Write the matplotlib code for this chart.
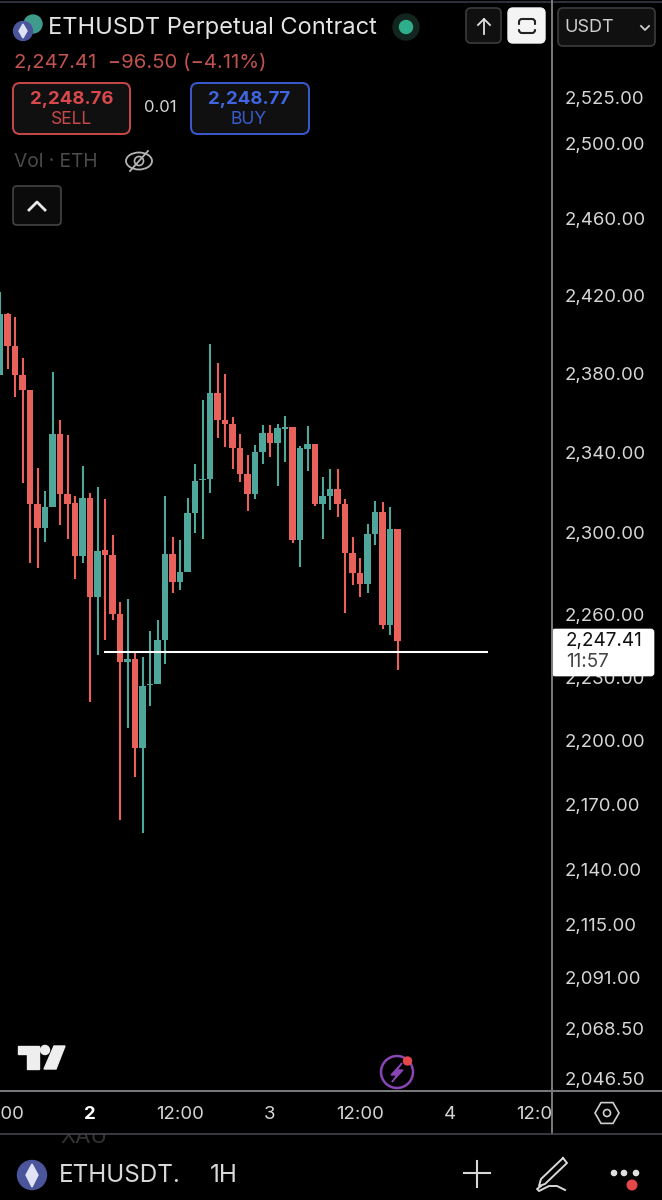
import numpy as np
import matplotlib
matplotlib.use('Agg')
import matplotlib.pyplot as plt
from matplotlib.patches import FancyBboxPatch, Circle, Polygon, Rectangle, Ellipse, RegularPolygon
from matplotlib.ticker import NullLocator

plt.rcParams['font.family'] = ['Inter', 'DejaVu Sans']

# hourly candles
opens = [2379.1, 2410.4, 2394.0, 2379.1, 2371.5, 2314.3, 2302.5, 2312.8, 2349.3, 2319.3,
         2314.8, 2288.7, 2317.3, 2268.7, 2291.6, 2289.2, 2260.5, 2237.4, 2238.8, 2196.5,
         2226.3, 2226.8, 2247.9, 2289.7, 2276.0, 2280.9, 2309.9, 2326.3, 2326.8, 2370.0,
         2356.4, 2354.3, 2342.3, 2329.3, 2319.3, 2340.2, 2349.8, 2344.7, 2351.8, 2352.8,
         2296.6, 2341.8, 2344.2, 2314.3, 2318.3, 2321.8, 2314.3, 2290.2, 2280.4, 2275.0,
         2299.5, 2310.3, 2255.1, 2302.0]
closes = [2410.4, 2394.0, 2379.1, 2371.5, 2314.3, 2302.5, 2312.8, 2349.3, 2319.3, 2314.3,
          2288.7, 2317.3, 2268.7, 2291.2, 2289.2, 2260.5, 2237.4, 2238.8, 2196.5, 2225.9,
          2226.8, 2247.9, 2289.7, 2276.0, 2280.9, 2309.9, 2325.7, 2326.8, 2370.0, 2356.4,
          2354.3, 2342.3, 2329.3, 2319.3, 2340.2, 2349.8, 2344.7, 2352.3, 2352.8, 2296.6,
          2342.3, 2344.2, 2314.3, 2318.3, 2321.8, 2314.3, 2290.2, 2280.4, 2275.0, 2299.5,
          2310.3, 2255.1, 2302.0, 2247.41]
highs = [2421.8, 2411.0, 2408.9, 2387.8, 2371.5, 2332.2, 2320.8, 2380.7, 2356.4, 2348.8,
         2318.3, 2333.2, 2319.8, 2322.8, 2316.8, 2299.0, 2266.3, 2267.7, 2241.7, 2239.7,
         2252.2, 2257.6, 2318.3, 2298.0, 2296.6, 2317.3, 2334.2, 2366.4, 2395.0, 2385.3,
         2379.7, 2357.8, 2349.3, 2338.7, 2343.7, 2353.8, 2353.8, 2354.3, 2358.3, 2352.8,
         2343.3, 2353.3, 2344.2, 2327.8, 2331.7, 2331.7, 2316.8, 2298.0, 2287.7, 2304.4,
         2315.8, 2315.3, 2312.8, 2302.0]
lows = [2379.1, 2382.2, 2368.0, 2324.8, 2285.3, 2282.8, 2295.6, 2312.8, 2303.9, 2297.0,
        2277.5, 2285.3, 2218.3, 2240.7, 2247.9, 2257.6, 2163.0, 2205.9, 2182.9, 2157.0,
        2216.4, 2226.8, 2236.4, 2270.6, 2272.1, 2280.9, 2300.0, 2297.0, 2319.8, 2347.3,
        2342.8, 2331.7, 2325.2, 2310.8, 2316.8, 2334.2, 2337.7, 2323.3, 2335.3, 2295.1,
        2283.3, 2330.7, 2313.3, 2297.0, 2311.3, 2307.9, 2261.0, 2274.5, 2268.7, 2270.6,
        2294.1, 2253.2, 2250.3, 2233.5]
level = 2242.1

price_ticks = [2525, 2500, 2460, 2420, 2380, 2340, 2300, 2260, 2230, 2200, 2170, 2140,
               2115, 2091, 2068.5, 2046.5]
price_labels = ['2,525.00', '2,500.00', '2,460.00', '2,420.00', '2,380.00', '2,340.00',
                '2,300.00', '2,260.00', '2,230.00', '2,200.00', '2,170.00', '2,140.00',
                '2,115.00', '2,091.00', '2,068.50', '2,046.50']
time_ticks = [0, 12, 24, 36, 48, 60, 72]
time_labels = ['12:00', '2', '12:00', '3', '12:00', '4', '12:00']

RED = '#e8615a'
GREEN = '#4fa69a'
AXIS = '#7c7c80'
LABEL = '#d6d6d6'

W, H = 662, 1200
fig = plt.figure(figsize=(W / 100, H / 100), dpi=100, facecolor='black')

# chart pane, x axis ends at 1091 px from the top, y axis at 552 px
ax = fig.add_axes([0, 1 - 1091 / H, 552 / W, 1091 / H], facecolor='black')
ax.set_yscale('log')
ax.set_xlim(0, 552 / 7.5)
ax.set_ylim(2300 * np.exp((533 - 1091) / 4669), 2300 * np.exp(533 / 4669))

x = np.arange(len(opens))
opens = np.array(opens)
closes = np.array(closes)
colors = [GREEN if c >= o else RED for o, c in zip(opens, closes)]
ax.vlines(x, lows, highs, colors=colors, lw=1.5)
ax.bar(x, np.abs(closes - opens), bottom=np.minimum(opens, closes), width=0.92, color=colors)
ax.hlines(level, 13.87, 65.07, color='white', lw=1.5, zorder=3)

ax.yaxis.tick_right()
ax.set_yticks(price_ticks, price_labels)
ax.yaxis.set_minor_locator(NullLocator())
ax.set_xticks(time_ticks, time_labels)
ax.tick_params(axis='y', length=0, pad=9, labelsize=13.4, labelcolor=LABEL)
ax.tick_params(axis='x', length=0, pad=10.5, labelsize=13.4, labelcolor=LABEL)
ax.get_xticklabels()[1].set_fontweight('bold')
ax.get_xticklabels()[1].set_color('white')
for s in ax.spines.values():
    s.set_visible(False)

# everything around the chart, in pixel coordinates
ui = fig.add_axes([0, 0, 1, 1], zorder=5)
ui.set_xlim(0, W)
ui.set_ylim(H, 0)
ui.axis('off')
ui.patch.set_alpha(0)


def box(x0, y0, x1, y1, r=5, **kw):
    ui.add_patch(FancyBboxPatch((x0 + r, y0 + r), x1 - x0 - 2 * r, y1 - y0 - 2 * r,
                                boxstyle='round,pad=%d' % r, **kw))


def label(x, y, s, size, color, ha='left', **kw):
    # va center sits a little high here, hence the 1 px
    ui.text(x, y + 1, s, fontsize=size, color=color, ha=ha, va='center', **kw)


# axis lines, the black patch hides the end of the last time label
ui.add_patch(Rectangle((553, 1092), 109, 42, color='black'))
ui.plot([0, W], [1.5, 1.5], color='#2c2e3a', lw=1.5)
ui.plot([552, 552], [0, 1134], color=AXIS, lw=1.4)
ui.plot([0, W], [1091, 1091], color=AXIS, lw=1.4)

# header
ui.add_patch(Circle((33, 24), 9, color='#3f9c8c'))
ui.add_patch(Circle((23, 31), 9.5, color='#4b559c', zorder=3))
ui.add_patch(Polygon([(23, 24), (27, 31), (23, 38), (19, 31)], color='#dfe3f5', zorder=4))
label(48, 27, 'ETHUSDT Perpetual Contract', 17, '#e4e4e4')
ui.add_patch(Circle((406, 27), 13, color='#12261f'))
ui.add_patch(Circle((406, 27), 6.5, color='#2fae8b'))
label(14, 62, '2,247.41  \u221296.50 (\u22124.11%)', 14.6, '#c2524f')

box(13, 83, 130, 134, r=7, fc='#101010', ec='#c9484a', lw=1.4)
label(72, 98, '2,248.76', 13.4, '#d9484c', ha='center', fontweight='bold')
label(71, 119, 'SELL', 12.6, '#c9484a', ha='center')
label(160, 107, '0.01', 12, '#d6d6d6', ha='center')
box(191, 83, 309, 134, r=7, fc='#101010', ec='#3a5bd0', lw=1.4)
label(249, 98, '2,248.77', 13.4, '#3f66e0', ha='center', fontweight='bold')
label(249, 119, 'BUY', 12.6, '#3a5bd0', ha='center')

label(14, 161, 'Vol \u00b7 ETH', 13.8, '#4c4c4c')
ui.add_patch(Ellipse((139, 161), 26, 17, fc='none', ec='#b5b5b5', lw=1.3))
ui.add_patch(Circle((139, 161), 4.5, fc='none', ec='#b5b5b5', lw=1.2))
ui.plot([130, 148], [171, 151], color='#b5b5b5', lw=1.3)

box(13, 186, 61, 225, r=4, fc='#0b0b0b', ec='#444444', lw=1.2)
ui.plot([29, 37, 45], [210, 202, 210], color='#e8e8e8', lw=2)

box(466, 8, 501, 43, r=5, fc='#101010', ec='#3c3c3c', lw=1.2)
ui.plot([484, 484], [19, 34], color='#e0e0e0', lw=1.3)
ui.plot([478, 484, 490], [25, 19, 25], color='#e0e0e0', lw=1.3)
box(508, 8, 545, 43, r=5, fc='#f4f4f4', ec='#f4f4f4', lw=1)
box(519, 19, 535, 33, r=3, fc='none', ec='#222222', lw=1.5)
ui.add_patch(Rectangle((516, 25), 22, 2.5, color='#f4f4f4', zorder=4))
box(558, 8, 655, 46, r=5, fc='#101010', ec='#3c3c3c', lw=1.2)
label(564, 26, 'USDT', 13, '#cfcfcf')
ui.plot([641, 645, 649], [26, 30, 26], color='#cfcfcf', lw=1.3)

# last price box
box(552, 629, 654, 676, r=3, fc='white', ec='white', lw=0.5)
label(566, 640, '2,247.41', 13.6, '#111111')
label(566, 661, '11:57', 13.6, '#444444')

# TradingView mark and the bolt button
ui.add_patch(Polygon([(18, 1046), (39, 1046), (39, 1069), (27, 1069), (27, 1054), (18, 1054)], color='#eeeeee'))
ui.add_patch(Circle((45, 1050), 4.5, color='#eeeeee'))
ui.add_patch(Polygon([(54, 1046), (65, 1046), (56, 1069), (44, 1069)], color='#eeeeee'))
ui.add_patch(Circle((397, 1072), 16, fc='none', ec='#8a45b5', lw=1.8))
ui.add_patch(Polygon([(402, 1063), (391, 1075), (397, 1075), (392, 1082), (403, 1070), (397, 1070)], color='#8a45b5'))
ui.add_patch(Circle((407.5, 1061), 4, color='#e5484a'))

ui.add_patch(RegularPolygon((607, 1113), 6, radius=12, orientation=np.pi / 6, fc='none', ec='#cfcfcf', lw=1.2))
ui.add_patch(Circle((607, 1113), 3.5, fc='none', ec='#cfcfcf', lw=1.2))

# bottom toolbar, only the lower part of XAU shows under the line
label(60, 1136, 'XAU', 16, '#333333')
ui.add_patch(Rectangle((50, 1120), 70, 13.4, color='black', zorder=4))
ui.plot([0, W], [1134, 1134], color='#44444c', lw=1.2, zorder=5)
ui.add_patch(Circle((32, 1175), 14.5, color='#4b559c'))
ui.add_patch(Polygon([(32, 1164), (38, 1175), (32, 1187), (26, 1175)], color='#dfe3f5', zorder=4))
label(59, 1174, 'ETHUSDT.', 17.5, '#d8d8d8')
label(210, 1174, '1H', 17.5, '#d8d8d8')
ui.plot([477, 477], [1161, 1187], color='#d8d8d8', lw=1.5)
ui.plot([464, 490], [1173, 1173], color='#d8d8d8', lw=1.5)
# pen with its squiggle
ui.plot([563, 567, 545, 539, 541, 563], [1158, 1163, 1184, 1186, 1179, 1158], color='#d8d8d8', lw=1.4)
ui.plot([541, 537, 539, 549, 557, 565], [1186, 1189, 1191, 1186, 1186, 1190], color='#d8d8d8', lw=1.4)
for dx in [614, 624, 636]:
    ui.add_patch(Circle((dx, 1173), 2.6, color='#e0e0e0'))
ui.add_patch(Circle((632, 1185), 4.8, color='#e5484a'))

fig.savefig('out.png', dpi=100, facecolor='black')
